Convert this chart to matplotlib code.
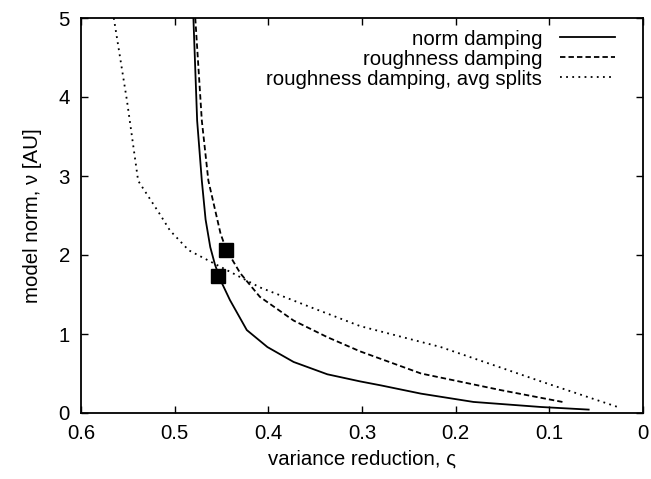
import matplotlib
matplotlib.use("Agg")
import matplotlib.pyplot as plt

plt.rcParams["font.family"] = ["Liberation Sans", "DejaVu Sans"]

# norm damping (solid)
norm_x = [0.480, 0.476, 0.471, 0.467, 0.462, 0.457, 0.451, 0.441, 0.423, 0.401,
          0.373, 0.337, 0.302, 0.280, 0.237, 0.181, 0.109, 0.058]
norm_y = [5.00, 3.70, 2.94, 2.45, 2.10, 1.88, 1.68, 1.43, 1.05, 0.835,
          0.646, 0.49, 0.40, 0.35, 0.245, 0.14, 0.076, 0.043]

# roughness damping (dashed)
rough_x = [0.478, 0.471, 0.464, 0.451, 0.445, 0.430, 0.409, 0.373, 0.337,
           0.302, 0.237, 0.152, 0.086]
rough_y = [5.00, 3.70, 2.94, 2.27, 2.07, 1.77, 1.47, 1.17, 0.96,
           0.78, 0.50, 0.29, 0.14]

# roughness damping, avg splits (dotted)
avg_x = [0.565, 0.551, 0.539, 0.516, 0.505, 0.485, 0.451, 0.409, 0.355,
         0.302, 0.216, 0.163, 0.109, 0.027]
avg_y = [5.00, 3.96, 2.94, 2.52, 2.31, 2.06, 1.85, 1.59, 1.34,
         1.10, 0.835, 0.62, 0.40, 0.076]

# selected points
sel_x = [0.4535, 0.445]
sel_y = [1.74, 2.06]

FS = 14.7

fig = plt.figure(figsize=(6.51, 4.79), dpi=100)
ax = fig.add_axes([81 / 651, 1 - 413 / 479, (643 - 81) / 651, (413 - 18) / 479])

ax.plot(norm_x, norm_y, color="black", lw=1.3, ls="-", label="norm damping")
ax.plot(rough_x, rough_y, color="black", lw=1.3, ls=(0, (3, 1.7)),
        label="roughness damping")
ax.plot(avg_x, avg_y, color="black", lw=1.3, ls=(0, (1, 2.4)),
        label="roughness damping, avg splits")
ax.plot(sel_x, sel_y, ls="none", marker="s", ms=10, color="black")

ax.set_xlim(0.6, 0)
ax.set_ylim(0, 5)
ax.set_xticks([0.6, 0.5, 0.4, 0.3, 0.2, 0.1, 0])
ax.set_xticklabels(["0.6", "0.5", "0.4", "0.3", "0.2", "0.1", "0"])
ax.set_yticks([0, 1, 2, 3, 4, 5])
ax.tick_params(direction="in", top=True, right=True, length=5, width=1,
               labelsize=FS, pad=8)
for s in ax.spines.values():
    s.set_linewidth(1.3)

ax.set_xlabel("variance reduction, ς", fontsize=FS, labelpad=5)
ax.set_ylabel("model norm, ν [AU]", fontsize=FS, labelpad=12)

ax.legend(loc="upper right", frameon=False, markerfirst=False, fontsize=FS,
          handlelength=2.7, handletextpad=0.85, labelspacing=0.05,
          borderaxespad=0.3, bbox_to_anchor=(0.975, 1.007))

fig.savefig("out.png", dpi=100)
